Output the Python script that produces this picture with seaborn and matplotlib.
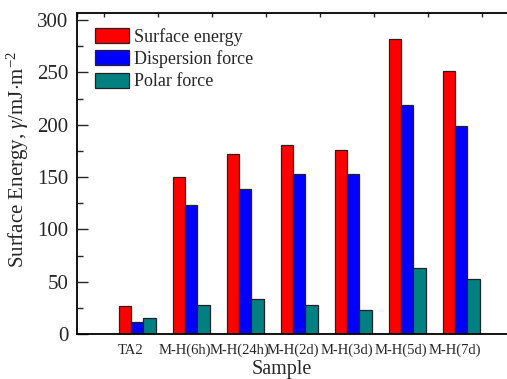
import numpy as np
import pandas as pd
import matplotlib
matplotlib.use("Agg")
import matplotlib.pyplot as plt
from matplotlib.ticker import MultipleLocator, FixedLocator
import seaborn as sns

samples = ["TA2", "M-H(6h)", "M-H(24h)", "M-H(2d)", "M-H(3d)", "M-H(5d)", "M-H(7d)"]
surface_energy = [26.8, 150.2, 172.0, 180.2, 175.5, 282.2, 251.0]
dispersion_force = [11.5, 123.0, 138.5, 152.7, 152.4, 218.5, 198.3]
polar_force = [15.5, 27.3, 33.5, 27.3, 23.0, 63.5, 52.5]
series_names = ["Surface energy", "Dispersion force", "Polar force"]
colors = ["#FF0000", "#0000FF", "#008080"]

sns.set_theme(style="white")
plt.rcParams["font.family"] = ["Liberation Serif", "DejaVu Serif"]
plt.rcParams["mathtext.fontset"] = "custom"
plt.rcParams["mathtext.rm"] = "Liberation Serif"
plt.rcParams["mathtext.it"] = "Liberation Serif:italic"

df = pd.DataFrame({
    "Sample": samples * 3,
    "value": surface_energy + dispersion_force + polar_force,
    "component": np.repeat(series_names, len(samples)),
})

W, H = 507, 379
fig = plt.figure(figsize=(W / 100, H / 100), dpi=100)
left, right, top, bottom = 77, 530, 13, 334
span = right - left
ax = fig.add_axes([left / W, (H - bottom) / H, span / W, (bottom - top) / H])

sns.barplot(data=df, x="Sample", y="value", hue="component", order=samples,
            hue_order=series_names, palette=colors, width=0.69,
            edgecolor="#222222", linewidth=0.9, saturation=1, ax=ax, legend=True)

# 54 px per category, axis starts one category left of TA2 and runs past the right edge
shift = 0.115
unit = 54.0
x0 = -1 - shift
ax.set_xlim(x0, x0 + span / unit)
ax.set_ylim(0, 306.7)

ax.set_xticks([k - shift for k in range(len(samples))])
ax.set_xticklabels(samples, fontsize=10.5)
ax.tick_params(axis="x", which="major", bottom=True, top=False, length=0, pad=7)
ax.xaxis.set_minor_locator(FixedLocator(np.arange(x0, 10, 0.5)))
ax.tick_params(axis="x", which="minor", direction="in", bottom=False, top=True, length=3, width=1)

ax.yaxis.set_major_locator(MultipleLocator(50))
ax.yaxis.set_minor_locator(MultipleLocator(25))
ax.tick_params(axis="y", which="major", direction="in", length=8, width=1, labelsize=15,
               left=True, right=False, pad=6)
ax.tick_params(axis="y", which="minor", direction="in", length=4, width=1, left=True, right=False)

for s in ax.spines.values():
    s.set_color("black")
    s.set_linewidth(1.3)
ax.spines["right"].set_visible(False)

ax.set_xlabel("Sample", fontsize=14.5, labelpad=1)
ax.xaxis.set_label_coords((282 - left) / span, -0.08)
ax.set_ylabel(r"Surface Energy, $\mathit{\gamma}$/mJ$\cdot$m$^{-2}$", fontsize=15, labelpad=5)
ax.yaxis.set_label_coords(-46 / span, 0.545)

ax.legend(loc="upper left", bbox_to_anchor=(5 / span, 0.993), frameon=False,
          fontsize=13, handlelength=1.9, handleheight=0.9, handletextpad=0.3, labelspacing=0.25,
          borderaxespad=0.3, title=None)

fig.savefig("out.png", dpi=100)
